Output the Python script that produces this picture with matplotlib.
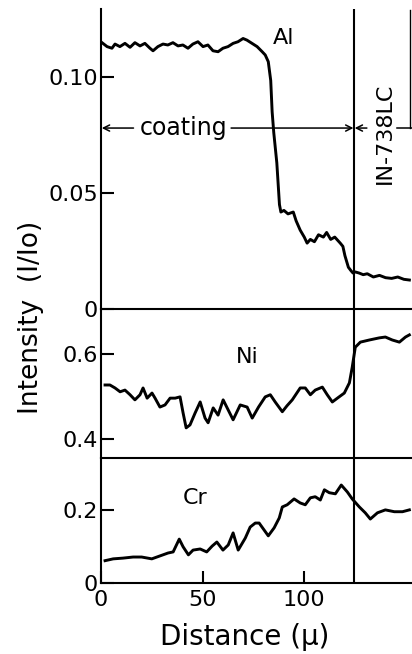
import numpy as np
import matplotlib
matplotlib.use("Agg")
import matplotlib.pyplot as plt

# Al profile (distance in micron, intensity I/Io)
al_dist = [0.5, 3, 5.4, 6.9, 9.3, 11.8, 14.3, 16.7, 19.2, 21.6, 24.1, 25.6, 28, 30.5, 32.9,
           35.4, 37.9, 40.3, 42.8, 45.2, 47.7, 50.2, 52.6, 55.1, 57.6, 60, 62.5, 65, 67.4,
           69.9, 71.8, 74.3, 76.8, 79.3, 80.8, 82.3, 83.5, 84.2, 85, 86.5, 87.8, 88.5, 90,
           92, 94.6, 96, 98, 100, 101.4, 103, 105, 107, 109.4, 111, 113, 115, 117.7, 119,
           120, 121.7, 123, 124, 125, 127, 129, 131, 134, 137, 140, 143, 146, 149, 151.7]
al_val = [0.1148, 0.1131, 0.1124, 0.1142, 0.1131, 0.1145, 0.1128, 0.1148, 0.1134, 0.1145,
          0.1124, 0.1113, 0.1131, 0.1142, 0.1138, 0.1148, 0.1134, 0.1138, 0.1124, 0.1142,
          0.1152, 0.1131, 0.1138, 0.1113, 0.1109, 0.1124, 0.1131, 0.1145, 0.1152, 0.1166,
          0.1159, 0.1145, 0.1131, 0.1109, 0.1095, 0.1066, 0.0985, 0.085, 0.076, 0.063,
          0.045, 0.0418, 0.0425, 0.041, 0.0418, 0.038, 0.034, 0.031, 0.0284, 0.030, 0.029,
          0.032, 0.031, 0.033, 0.030, 0.031, 0.0284, 0.027, 0.023, 0.018, 0.0165, 0.0155,
          0.016, 0.0155, 0.0148, 0.0152, 0.0138, 0.0145, 0.0135, 0.0132, 0.0138, 0.0128, 0.0125]

# Ni profile
ni_dist = [2, 4.4, 6.9, 9.4, 11.8, 14.3, 16.7, 19.2, 20.7, 22.7, 25.1, 26.6, 29, 31.5, 34,
           36.5, 38.9, 40.4, 41.9, 43.8, 46.3, 48.8, 51.2, 52.7, 55.2, 57.6, 60.1, 62.6, 65,
           68.5, 71.9, 74.4, 77.5, 80.8, 83.3, 85.7, 89.2, 91.5, 94.1, 98, 100.5, 103, 105.4,
           108.9, 111.3, 113.8, 116.3, 119.7, 122.2, 123.6, 125.1, 127.6, 132, 136.9, 139.9,
           143.3, 146.8, 149.8, 151.7]
ni_val = [0.527, 0.527, 0.520, 0.511, 0.515, 0.504, 0.492, 0.504, 0.520, 0.496, 0.508, 0.496,
          0.475, 0.480, 0.496, 0.496, 0.499, 0.461, 0.426, 0.433, 0.461, 0.487, 0.449, 0.438,
          0.473, 0.456, 0.492, 0.468, 0.445, 0.480, 0.475, 0.449, 0.475, 0.499, 0.504, 0.487,
          0.464, 0.478, 0.492, 0.520, 0.520, 0.504, 0.515, 0.522, 0.504, 0.487, 0.496, 0.508,
          0.532, 0.569, 0.616, 0.628, 0.633, 0.638, 0.640, 0.633, 0.628, 0.640, 0.645]

# Cr profile
cr_dist = [2, 6, 10.8, 15.8, 20, 25, 29, 33, 35.5, 38.5, 40.4, 43, 45.3, 48.8, 52, 54.7, 57,
           60, 62.6, 65, 67.5, 71, 73.4, 75.9, 77.8, 82.3, 85.2, 87.7, 89.2, 91.6, 95, 98,
           100.5, 103, 105.4, 107.9, 109.9, 112.3, 115.3, 118.2, 121.2, 123.6, 127.1, 130,
           132.5, 136, 139.9, 144.3, 148.3, 151.7]
cr_val = [0.061, 0.066, 0.068, 0.071, 0.071, 0.066, 0.074, 0.082, 0.085, 0.120, 0.099, 0.077,
          0.090, 0.093, 0.085, 0.101, 0.112, 0.090, 0.104, 0.137, 0.090, 0.123, 0.153, 0.164,
          0.164, 0.129, 0.151, 0.178, 0.208, 0.214, 0.230, 0.219, 0.214, 0.233, 0.236, 0.227,
          0.255, 0.247, 0.244, 0.268, 0.249, 0.230, 0.208, 0.192, 0.175, 0.192, 0.200, 0.195,
          0.195, 0.200]

boundary = 124.5   # coating / substrate interface
x_ticks = [0, 50, 100]

plt.rcParams['font.family'] = ['DejaVu Sans']
LW_AX = 1.5
LW_CURVE = 2.1
FS_TICK = 16

fig = plt.figure(figsize=(4.12, 6.54), dpi=100)
left, width = 0.2451, 0.7549
ax_al = fig.add_axes([left, 0.5275, width, 0.4587])
ax_ni = fig.add_axes([left, 0.2997, width, 0.2278])
ax_cr = fig.add_axes([left, 0.1086, width, 0.1911])

panels = [
    (ax_al, al_dist, al_val, (0, 0.1293), [0, 0.05, 0.10], ['0', '0.05', '0.10']),
    (ax_ni, ni_dist, ni_val, (0.355, 0.706), [0.4, 0.6], ['0.4', '0.6']),
    (ax_cr, cr_dist, cr_val, (0, 0.342), [0, 0.2], ['0', '0.2']),
]
for ax, d, v, ylim, yt, ytl in panels:
    ax.plot(d, v, color='black', lw=LW_CURVE, solid_joinstyle='round')
    ax.set_xlim(0, 153)
    ax.set_ylim(*ylim)
    ax.axvline(boundary, color='black', lw=LW_AX)
    ax.spines['top'].set_visible(False)
    ax.spines['right'].set_visible(False)
    ax.spines['left'].set_linewidth(LW_AX)
    ax.spines['bottom'].set_linewidth(LW_AX)
    ax.set_yticks(yt)
    ax.set_yticklabels(ytl)
    ax.tick_params(axis='y', direction='in', length=9, width=LW_AX, labelsize=FS_TICK, pad=2)
    ax.set_facecolor('none')
    if ax is not ax_cr:
        ax.set_xticks([])

ax_cr.set_xticks(x_ticks)
ax_cr.set_xticklabels([str(t) for t in x_ticks])
ax_cr.tick_params(axis='x', direction='in', length=9, width=LW_AX, labelsize=FS_TICK, pad=5)

# element labels
ax_al.text(90, 0.1168, 'Al', fontsize=16, ha='center', va='center')
ax_ni.text(71.8, 0.593, 'Ni', fontsize=16, ha='center', va='center')
ax_cr.text(46.2, 0.233, 'Cr', fontsize=16, ha='center', va='center')

# coating / substrate arrows
ya = 0.078
arr = dict(arrowstyle='->', lw=1.1, color='black', shrinkA=0, shrinkB=0, mutation_scale=11)
ax_al.annotate('', xy=(0.4, ya), xytext=(16, ya), arrowprops=arr)
ax_al.annotate('', xy=(124.2, ya), xytext=(64, ya), arrowprops=arr)
ax_al.annotate('', xy=(124.8, ya), xytext=(130.8, ya), arrowprops=arr)
ax_al.text(40.5, ya, 'coating', fontsize=17, ha='center', va='center')
ax_al.text(139.6, 0.0759, 'IN-738LC', fontsize=16, rotation=90, ha='center', va='center')
ax_al.plot([145.5, 153], [ya, ya], color='black', lw=1.1, clip_on=False)
ax_al.plot([152.2, 152.2], [ya, 0.1289], color='black', lw=1.0, clip_on=False)

fig.text(0.075, 0.514, 'Intensity  (I/Io)', fontsize=19, rotation=90, ha='center', va='center')
fig.text(0.595, 0.026, 'Distance (\u03bc)', fontsize=20, ha='center', va='center')

fig.savefig('out.png', dpi=100)
